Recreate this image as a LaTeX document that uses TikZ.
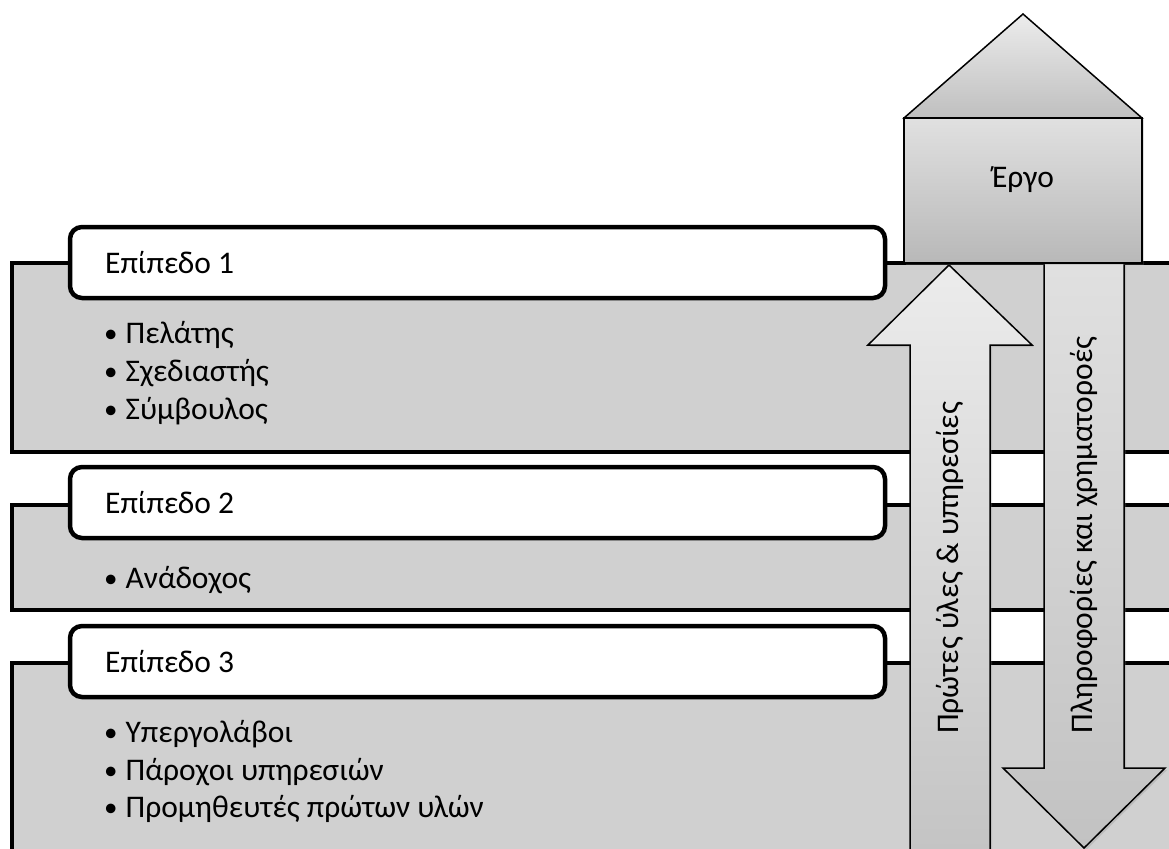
\documentclass[tikz,border=0pt]{standalone}
\usepackage{fontspec}
\setmainfont{Carlito}
\usetikzlibrary{shadows}
\definecolor{levelgray}{HTML}{D0D0D0}
\definecolor{lightA}{HTML}{ECECEC}
\definecolor{darkA}{HTML}{C2C2C2}
\newcommand{\bul}{{\fontsize{27}{27}\selectfont\raisebox{1pt}{•}}\hspace{8pt}}
\tikzset{
  levelbox/.style={draw=black, line width=4.5pt, fill=levelgray},
  titlebox/.style={draw=black, line width=4.5pt, fill=white, rounded corners=12pt},
  txt/.style={font=\fontsize{31.5}{36}\selectfont, inner sep=0pt},
  arrowshape/.style={draw=black, line width=1.5pt, top color=lightA, bottom color=darkA,
     drop shadow={shadow xshift=2pt, shadow yshift=-2pt, opacity=0.25}},
}
\begin{document}
\begin{tikzpicture}[x=1pt,y=-1pt]
\useasboundingbox (0,0) rectangle (1169,848);
\path[clip] (0,0) rectangle (1169,848);
% level boxes
\draw[levelbox] (12,263) rectangle (1185,452);
\draw[levelbox] (12,505) rectangle (1185,610);
\draw[levelbox] (12,663) rectangle (1185,880);
% title boxes
\draw[titlebox] (70,227) rectangle (885,298);
\draw[titlebox] (70,467) rectangle (885,538);
\draw[titlebox] (70,626) rectangle (885,697);
\node[txt, anchor=base west] (t1) at (105,273) {Επίπεδο 1};
\node[txt, anchor=base west] (t2) at (105,513) {Επίπεδο 2};
\node[txt, anchor=base west] (t3) at (105,672) {Επίπεδο 3};
% bullets
\node[txt, anchor=base west] (b11) at (104,343) {\bul Πελάτης};
\node[txt, anchor=base west] (b12) at (104,381) {\bul Σχεδιαστής};
\node[txt, anchor=base west] (b13) at (104,419) {\bul Σύμβουλος};
\node[txt, anchor=base west] (b21) at (104,588) {\bul Ανάδοχος};
\node[txt, anchor=base west] (b31) at (104,742) {\bul Υπεργολάβοι};
\node[txt, anchor=base west] (b32) at (104,780) {\bul Πάροχοι υπηρεσιών};
\node[txt, anchor=base west] (b33) at (104,817) {\bul Προμηθευτές πρώτων υλών};
% up arrow
\path[arrowshape] (949,265) -- (1032,345) -- (990,345) -- (990,880) -- (910,880) -- (910,345) -- (868,345) -- cycle;
% down arrow
\path[arrowshape, top color=lightA!95!black, bottom color=darkA] (1044,263) -- (1124,263) -- (1124,768) -- (1165,768) -- (1084,848) -- (1003,768) -- (1044,768) -- cycle;
% house
\path[arrowshape, top color=lightA, bottom color=darkA!105] (904,118) -- (1023,14) -- (1142,118) -- cycle;
\path[arrowshape, top color=lightA!95!black, bottom color=darkA!95!black] (904,118) rectangle (1142,263);
\node[txt] (ergo) at (1023,180) {Έργο};
\node[txt, rotate=90] (up) at (950,568) {Πρώτες ύλες \& υπηρεσίες};
\node[txt, rotate=90] (down) at (1084,535) {Πληροφορίες και χρηματοροές};
\end{tikzpicture}
\end{document}
